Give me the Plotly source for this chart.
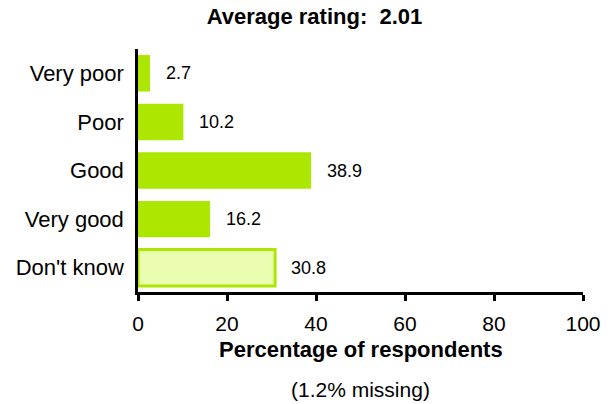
import plotly.graph_objects as go

categories = ["Very poor", "Poor", "Good", "Very good", "Don't know"]
values = [2.7, 10.2, 38.9, 16.2, 30.8]
value_labels = ["2.7", "10.2", "38.9", "16.2", "30.8"]
fill_colors = ["#ADE600", "#ADE600", "#ADE600", "#ADE600", "#EAFDB0"]
line_widths = [0, 0, 0, 0, 3]
x_ticks = [0, 20, 40, 60, 80, 100]

title_text = "<b>Average rating:  2.01</b>"
x_title = "<b>Percentage of respondents</b>"
note_text = "(1.2% missing)"

FONT = "Liberation Sans, Arial, sans-serif"

fig = go.Figure()
fig.add_trace(go.Bar(
    x=values,
    y=categories,
    orientation="h",
    marker=dict(color=fill_colors, line=dict(color="#ADE600", width=line_widths)),
    hoverinfo="skip",
))

annotations = []
for v, c, t in zip(values, categories, value_labels):
    annotations.append(dict(
        x=v, y=c, xref="x", yref="y", text=t, showarrow=False,
        xanchor="left", yanchor="middle", xshift=14,
        font=dict(family=FONT, size=18, color="black"),
    ))
annotations.append(dict(
    x=0.5, y=-0.238, xref="paper", yref="paper", text=x_title, showarrow=False,
    xanchor="center", yanchor="middle",
    font=dict(family=FONT, size=22, color="black"),
))
annotations.append(dict(
    x=0.5, y=-0.403, xref="paper", yref="paper", text=note_text, showarrow=False,
    xanchor="center", yanchor="middle",
    font=dict(family=FONT, size=21, color="black"),
))

fig.update_layout(
    width=613, height=404,
    margin=dict(l=138, r=25, t=49, b=112),
    paper_bgcolor="white", plot_bgcolor="white",
    showlegend=False,
    bargap=0.25,
    title=dict(text=title_text, x=0.513, xref="container", xanchor="center",
               y=0.959, yref="container", yanchor="middle",
               font=dict(family=FONT, size=22, color="black")),
    font=dict(family=FONT, color="black"),
    annotations=annotations,
)
fig.update_xaxes(
    range=[0, 100], tickvals=x_ticks, ticktext=[str(t) for t in x_ticks],
    showgrid=False, zeroline=False,
    showline=True, linecolor="black", linewidth=2.5,
    ticks="outside", ticklen=6, tickwidth=2.5, tickcolor="black",
    tickfont=dict(family=FONT, size=21, color="black"),
    ticklabelstandoff=5,
)
fig.update_yaxes(
    categoryorder="array", categoryarray=categories, autorange="reversed",
    showgrid=False, zeroline=False,
    showline=True, linecolor="black", linewidth=2.5,
    ticks="", tickfont=dict(family=FONT, size=22, color="black"),
    ticklabelstandoff=7,
)

fig.write_html(
    "out.html",
    config={"displayModeBar": False},
    post_script="document.body.style.margin='0';document.body.style.overflow='hidden';",
)
